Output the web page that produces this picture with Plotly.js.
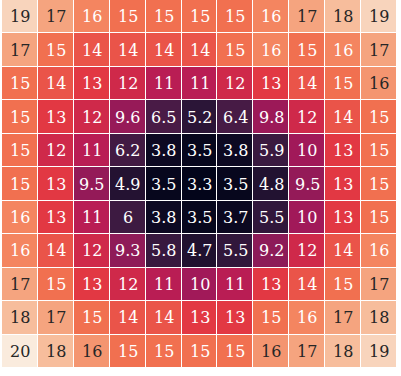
<!DOCTYPE html>
<html>
<head>
<meta charset="utf-8">
<script src="https://cdn.plot.ly/plotly-3.0.1.min.js"></script>
<style>html,body{margin:0;padding:0;background:#fff;}#chart{width:401px;height:376px;}</style>
</head>
<body>
<div id="chart"></div>
<script>
var cols = [0,1,2,3,4,5,6,7,8,9,10];
var rows = [0,1,2,3,4,5,6,7,8,9,10];
var row0  = [19, 17, 15.8, 15, 15, 15, 15, 15.8, 17, 18, 19];
var row1  = [17, 15, 14, 14, 14, 14, 15, 15.8, 15, 15.8, 17];
var row2  = [15, 14, 13, 12, 11, 11, 12, 13, 14, 15, 16.4];
var row3  = [15, 13, 12, 9.6, 6.5, 5.2, 6.4, 9.8, 12, 14, 15];
var row4  = [15, 12, 11, 6.2, 3.8, 3.5, 3.8, 5.9, 10, 13, 15];
var row5  = [15, 13, 9.5, 4.9, 3.5, 3.3, 3.5, 4.8, 9.5, 13, 15];
var row6  = [15.8, 13, 11, 6, 3.8, 3.5, 3.7, 5.5, 10, 13, 15];
var row7  = [15.8, 14, 12, 9.3, 5.8, 4.7, 5.5, 9.2, 12, 14, 15.8];
var row8  = [17, 15, 13, 12, 11, 10, 11, 13, 14, 15, 17];
var row9  = [18, 17, 15, 14, 14, 13, 13, 15, 15.8, 17, 18];
var row10 = [20, 18, 16.4, 15, 15, 15, 15, 16.4, 17, 18, 19];
var zRows = [row0,row1,row2,row3,row4,row5,row6,row7,row8,row9,row10];

var zmin = 3.3, zmax = 20;
var rocket = [
  [0.0,   '#03051a'],
  [0.143, '#35193e'],
  [0.286, '#701f57'],
  [0.429, '#ad1759'],
  [0.571, '#e13342'],
  [0.714, '#f37651'],
  [0.857, '#f6b48f'],
  [1.0,   '#faebdd']
];

function hex2rgb(h){return [parseInt(h.substr(1,2),16),parseInt(h.substr(3,2),16),parseInt(h.substr(5,2),16)];}
function colorAt(v){
  var t = (v - zmin)/(zmax - zmin); t = Math.max(0, Math.min(1, t));
  for (var i=1;i<rocket.length;i++){
    if (t <= rocket[i][0]){
      var a = rocket[i-1], b = rocket[i];
      var f = (t - a[0])/(b[0]-a[0]);
      var ca = hex2rgb(a[1]), cb = hex2rgb(b[1]);
      return [0,1,2].map(function(k){return ca[k]+(cb[k]-ca[k])*f;});
    }
  }
  return hex2rgb(rocket[rocket.length-1][1]);
}
function lum(c){
  var l = c.map(function(x){x/=255; return x<=0.03928? x/12.92 : Math.pow((x+0.055)/1.055,2.4);});
  return 0.2126*l[0]+0.7152*l[1]+0.0722*l[2];
}

var annotations = [];
zRows.forEach(function(r, ri){
  r.forEach(function(v, ci){
    var txt = String(Number(v.toPrecision(2)));
    annotations.push({
      x: cols[ci], y: rows[ri], xref:'x', yref:'y', text: txt, showarrow:false,
      font:{family:'DejaVu Serif, serif', size:16, color: lum(colorAt(v)) > 0.408 ? '#262626' : '#ffffff'}
    });
  });
});

var trace = {
  type:'heatmap', z: zRows, x: cols, y: rows,
  colorscale: rocket, zmin: zmin, zmax: zmax, showscale:false,
  xgap:1, ygap:1, hoverinfo:'none'
};
var layout = {
  width:401, height:376,
  margin:{l:2, r:4, t:0, b:8},
  paper_bgcolor:'#ffffff', plot_bgcolor:'#ffffff',
  xaxis:{visible:false, range:[-0.5,10.5], fixedrange:true},
  yaxis:{visible:false, range:[10.5,-0.5], fixedrange:true},
  annotations: annotations,
  showlegend:false
};
Plotly.newPlot('chart', [trace], layout, {displayModeBar:false, staticPlot:true});
</script>
</body>
</html>
